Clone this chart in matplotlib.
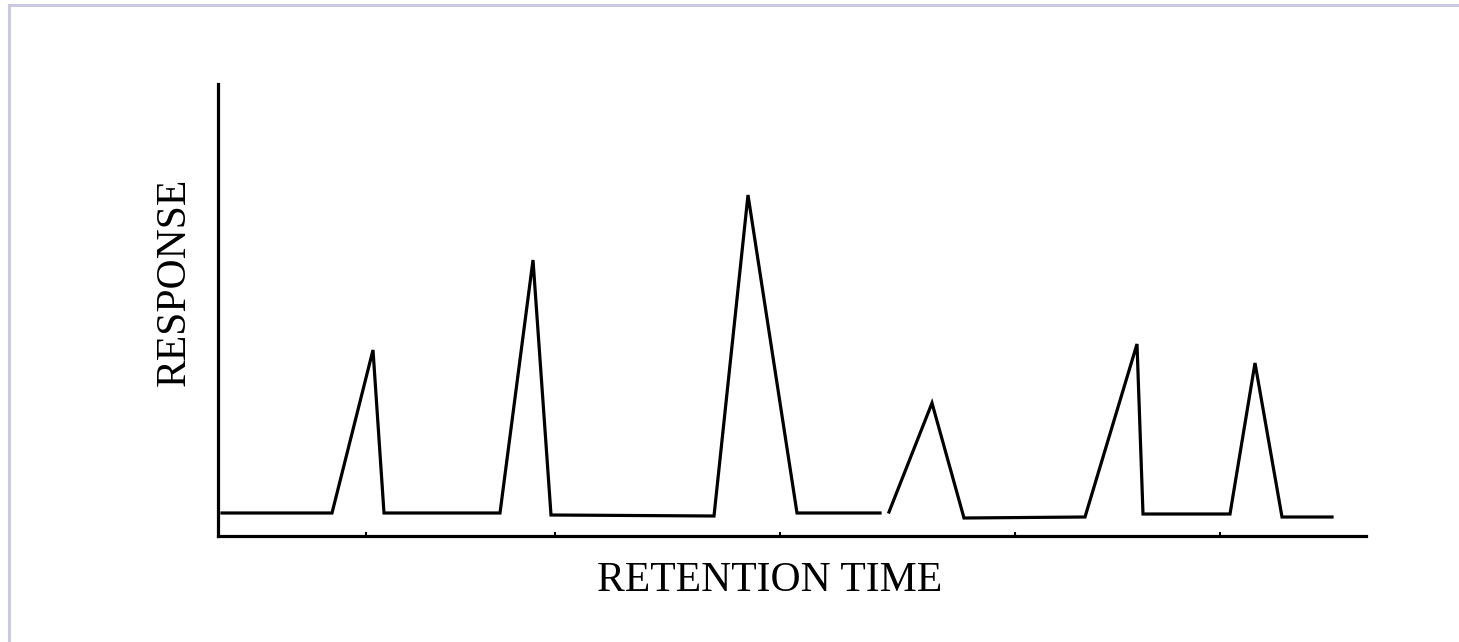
import matplotlib.pyplot as plt
from matplotlib.lines import Line2D

plt.rcParams['font.family'] = ['Liberation Serif', 'DejaVu Serif']

# trace (arbitrary units)
t1 = [4, 114, 155, 166, 282, 315, 333, 496, 530, 579, 662]
r1 = [23, 23, 186, 23, 23, 276, 21, 20, 341, 23, 23]
t2 = [671, 714, 746, 867, 919, 925, 1012, 1037, 1064, 1114]
r2 = [24, 133, 18, 19, 192, 22, 22, 173, 19, 19]
xticks = [148, 337, 562, 797, 1002]

W, H = 1459, 642
fig = plt.figure(figsize=(W / 100, H / 100), dpi=100)
ax = fig.add_axes([218 / W, 106 / H, 1148 / W, 452 / H])

ax.plot(t1, r1, color='black', lw=2.3, solid_joinstyle='miter')
ax.plot(t2, r2, color='black', lw=2.3, solid_joinstyle='miter')

ax.set_xlim(0, 1148)
ax.set_ylim(0, 452)
ax.spines['top'].set_visible(False)
ax.spines['right'].set_visible(False)
ax.spines['left'].set_linewidth(2.3)
ax.spines['bottom'].set_linewidth(2.3)
ax.set_xticks(xticks)
ax.set_xticklabels([])
ax.set_yticks([])
ax.tick_params(axis='x', direction='in', length=3, width=1.5)

fig.text(770 / W, 1 - 581 / H, 'RETENTION TIME', fontsize=30, ha='center', va='center')
fig.text(175 / W, 1 - 282 / H, 'RESPONSE', fontsize=30, ha='center', va='center',
         rotation=90)

# light frame on the top and left edge
fig.add_artist(Line2D([9 / W, 9 / W], [0, 1 - 5 / H], transform=fig.transFigure,
                      color='#cbc9e2', lw=2.2))
fig.add_artist(Line2D([9 / W, 1], [1 - 5 / H, 1 - 5 / H], transform=fig.transFigure,
                      color='#cbc9e2', lw=2.2))

plt.savefig('out.png', dpi=100)
